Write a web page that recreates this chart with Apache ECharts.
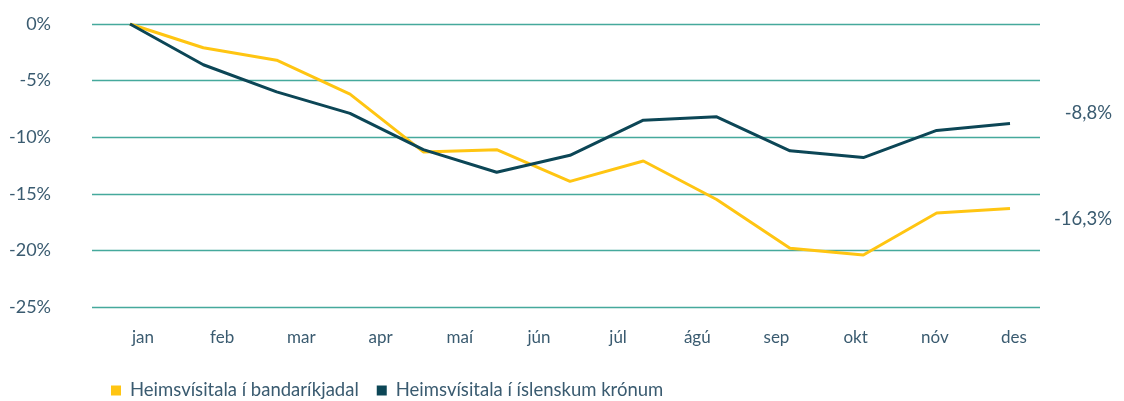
<!DOCTYPE html>
<html>
<head>
<meta charset="utf-8">
<script src="https://cdn.jsdelivr.net/npm/echarts@6/dist/echarts.min.js"></script>
<style>
  html, body { margin: 0; padding: 0; background: #fff; }
  #chart { width: 1124px; height: 401px; }
</style>
</head>
<body>
<div id="chart"></div>
<script>
// mánuðir á x-ás
const months = ['jan', 'feb', 'mar', 'apr', 'maí', 'jún', 'júl', 'ágú', 'sep', 'okt', 'nóv', 'des'];
// 13 punktar: upphafsgildi + lok hvers mánaðar (%)
const usdValues = [0, -2.1, -3.2, -6.2, -11.3, -11.1, -13.9, -12.1, -15.5, -19.8, -20.4, -16.7, -16.3];
const iskValues = [0, -3.6, -6.0, -7.9, -11.1, -13.1, -11.6, -8.5, -8.2, -11.2, -11.8, -9.4, -8.8];
const yTicks = [0, -5, -10, -15, -20, -25];

const seriesNames = ['Heimsvísitala í bandaríkjadal', 'Heimsvísitala í íslenskum krónum'];
const fontFamily = 'Lato, "Open Sans", sans-serif';
const textColor = '#3a5b70';

const fmt = v => String(v).replace('.', ',') + '%';
const toPoints = arr => arr.map((v, i) => [i, v]);

const chart = echarts.init(document.getElementById('chart'), null, { renderer: 'canvas' });

chart.setOption({
  backgroundColor: '#fff',
  animation: false,
  textStyle: { fontFamily: fontFamily },
  grid: [
    { left: 92, right: 84, top: 24, bottom: 94 },
    { left: 143, right: 110, top: 24, bottom: 94 }
  ],
  legend: {
    top: 376,
    left: 106,
    icon: 'rect',
    itemWidth: 10,
    itemHeight: 10,
    itemGap: 18,
    data: seriesNames,
    textStyle: { color: textColor, fontSize: 18.5, fontFamily: fontFamily, padding: [0, 0, 0, 4] }
  },
  xAxis: [
    {
      type: 'value',
      gridIndex: 0,
      min: -0.518,
      max: 12.409,
      show: false
    },
    {
      type: 'category',
      gridIndex: 1,
      data: months,
      boundaryGap: false,
      axisLine: { show: false },
      axisTick: { show: false },
      axisLabel: { color: textColor, fontSize: 17, margin: 22, fontFamily: fontFamily }
    }
  ],
  yAxis: [
    {
      type: 'value',
      gridIndex: 0,
      min: Math.min(...yTicks),
      max: Math.max(...yTicks),
      interval: 5,
      axisLine: { show: false },
      axisTick: { show: false },
      axisLabel: {
        color: textColor,
        fontSize: 18,
        margin: 41,
        fontFamily: fontFamily,
        formatter: v => v + '%'
      },
      splitLine: { lineStyle: { color: '#45a99c', width: 1.3 } }
    },
    { type: 'value', gridIndex: 1, show: false, min: -25, max: 0 }
  ],
  series: [
    {
      name: seriesNames[0],
      type: 'line',
      xAxisIndex: 0,
      yAxisIndex: 0,
      data: toPoints(usdValues),
      symbol: 'none',
      color: '#ffc512',
      lineStyle: { width: 3, color: '#ffc512' },
      endLabel: {
        show: true,
        formatter: p => fmt(p.value[1]),
        color: textColor,
        fontSize: 18.5,
        fontFamily: fontFamily,
        align: 'right',
        offset: [94, 11]
      }
    },
    {
      name: seriesNames[1],
      type: 'line',
      xAxisIndex: 0,
      yAxisIndex: 0,
      data: toPoints(iskValues),
      symbol: 'none',
      color: '#0c4656',
      lineStyle: { width: 3, color: '#0c4656' },
      endLabel: {
        show: true,
        formatter: p => fmt(p.value[1]),
        color: textColor,
        fontSize: 18.5,
        fontFamily: fontFamily,
        align: 'right',
        offset: [94, -11]
      }
    }
  ]
});
</script>
</body>
</html>
